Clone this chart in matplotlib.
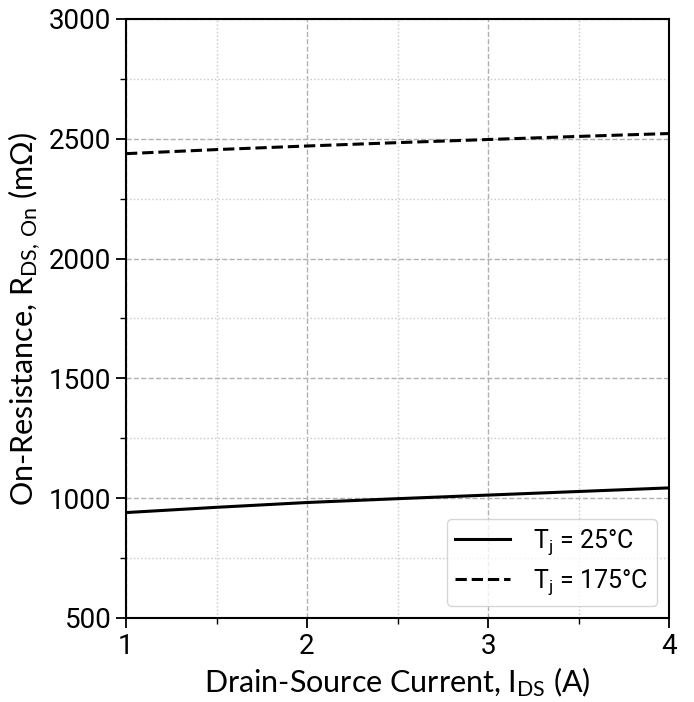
import matplotlib
matplotlib.use('Agg')
import matplotlib.pyplot as plt
from matplotlib.ticker import MultipleLocator

# 数据
current = [1.0, 1.5, 2.0, 2.5, 3.0, 3.5, 4.0]
r_25 = [940, 962, 982, 998, 1013, 1028, 1043]
r_175 = [2438, 2455, 2470, 2484, 2497, 2510, 2522]

plt.rcParams['font.family'] = ['Roboto', 'DejaVu Sans']
plt.rcParams['mathtext.default'] = 'regular'

fig = plt.figure(figsize=(6.94, 7.02), dpi=100)
ax = fig.add_axes([126 / 694, 1 - 618 / 702, 543 / 694, 599 / 702])

ax.plot(current, r_25, color='black', linestyle='-', linewidth=2.2, label='$T_j$ = 25°C')
ax.plot(current, r_175, color='black', linestyle='--', linewidth=2.2, label='$T_j$ = 175°C')

ax.set_xlim(1, 4)
ax.set_ylim(500, 3000)
ax.xaxis.set_major_locator(MultipleLocator(1))
ax.xaxis.set_minor_locator(MultipleLocator(0.5))
ax.yaxis.set_major_locator(MultipleLocator(500))
ax.yaxis.set_minor_locator(MultipleLocator(250))

# 网格
ax.grid(which='major', color='#b0b0b0', linestyle='--', linewidth=1)
ax.grid(which='minor', color='#c8c8c8', linestyle=':', linewidth=1)

ax.tick_params(which='major', labelsize=20, length=7, width=1.3)
ax.tick_params(which='minor', length=4, width=1.0)
for s in ax.spines.values():
    s.set_linewidth(1.5)

ax.set_xlabel('Drain-Source Current, $I_{DS}$ (A)', fontsize=22, family=['Lato', 'DejaVu Sans'])
ax.set_ylabel('On-Resistance, $R_{DS,\\,On}$ (mΩ)', fontsize=22, family=['Lato', 'DejaVu Sans'])

leg = ax.legend(loc='lower right', fontsize=18, handlelength=2.2, borderpad=0.35,
                labelspacing=0.4, handletextpad=0.9, fancybox=True)
leg.get_frame().set_edgecolor('#cccccc')

fig.savefig('out.png', dpi=100)
